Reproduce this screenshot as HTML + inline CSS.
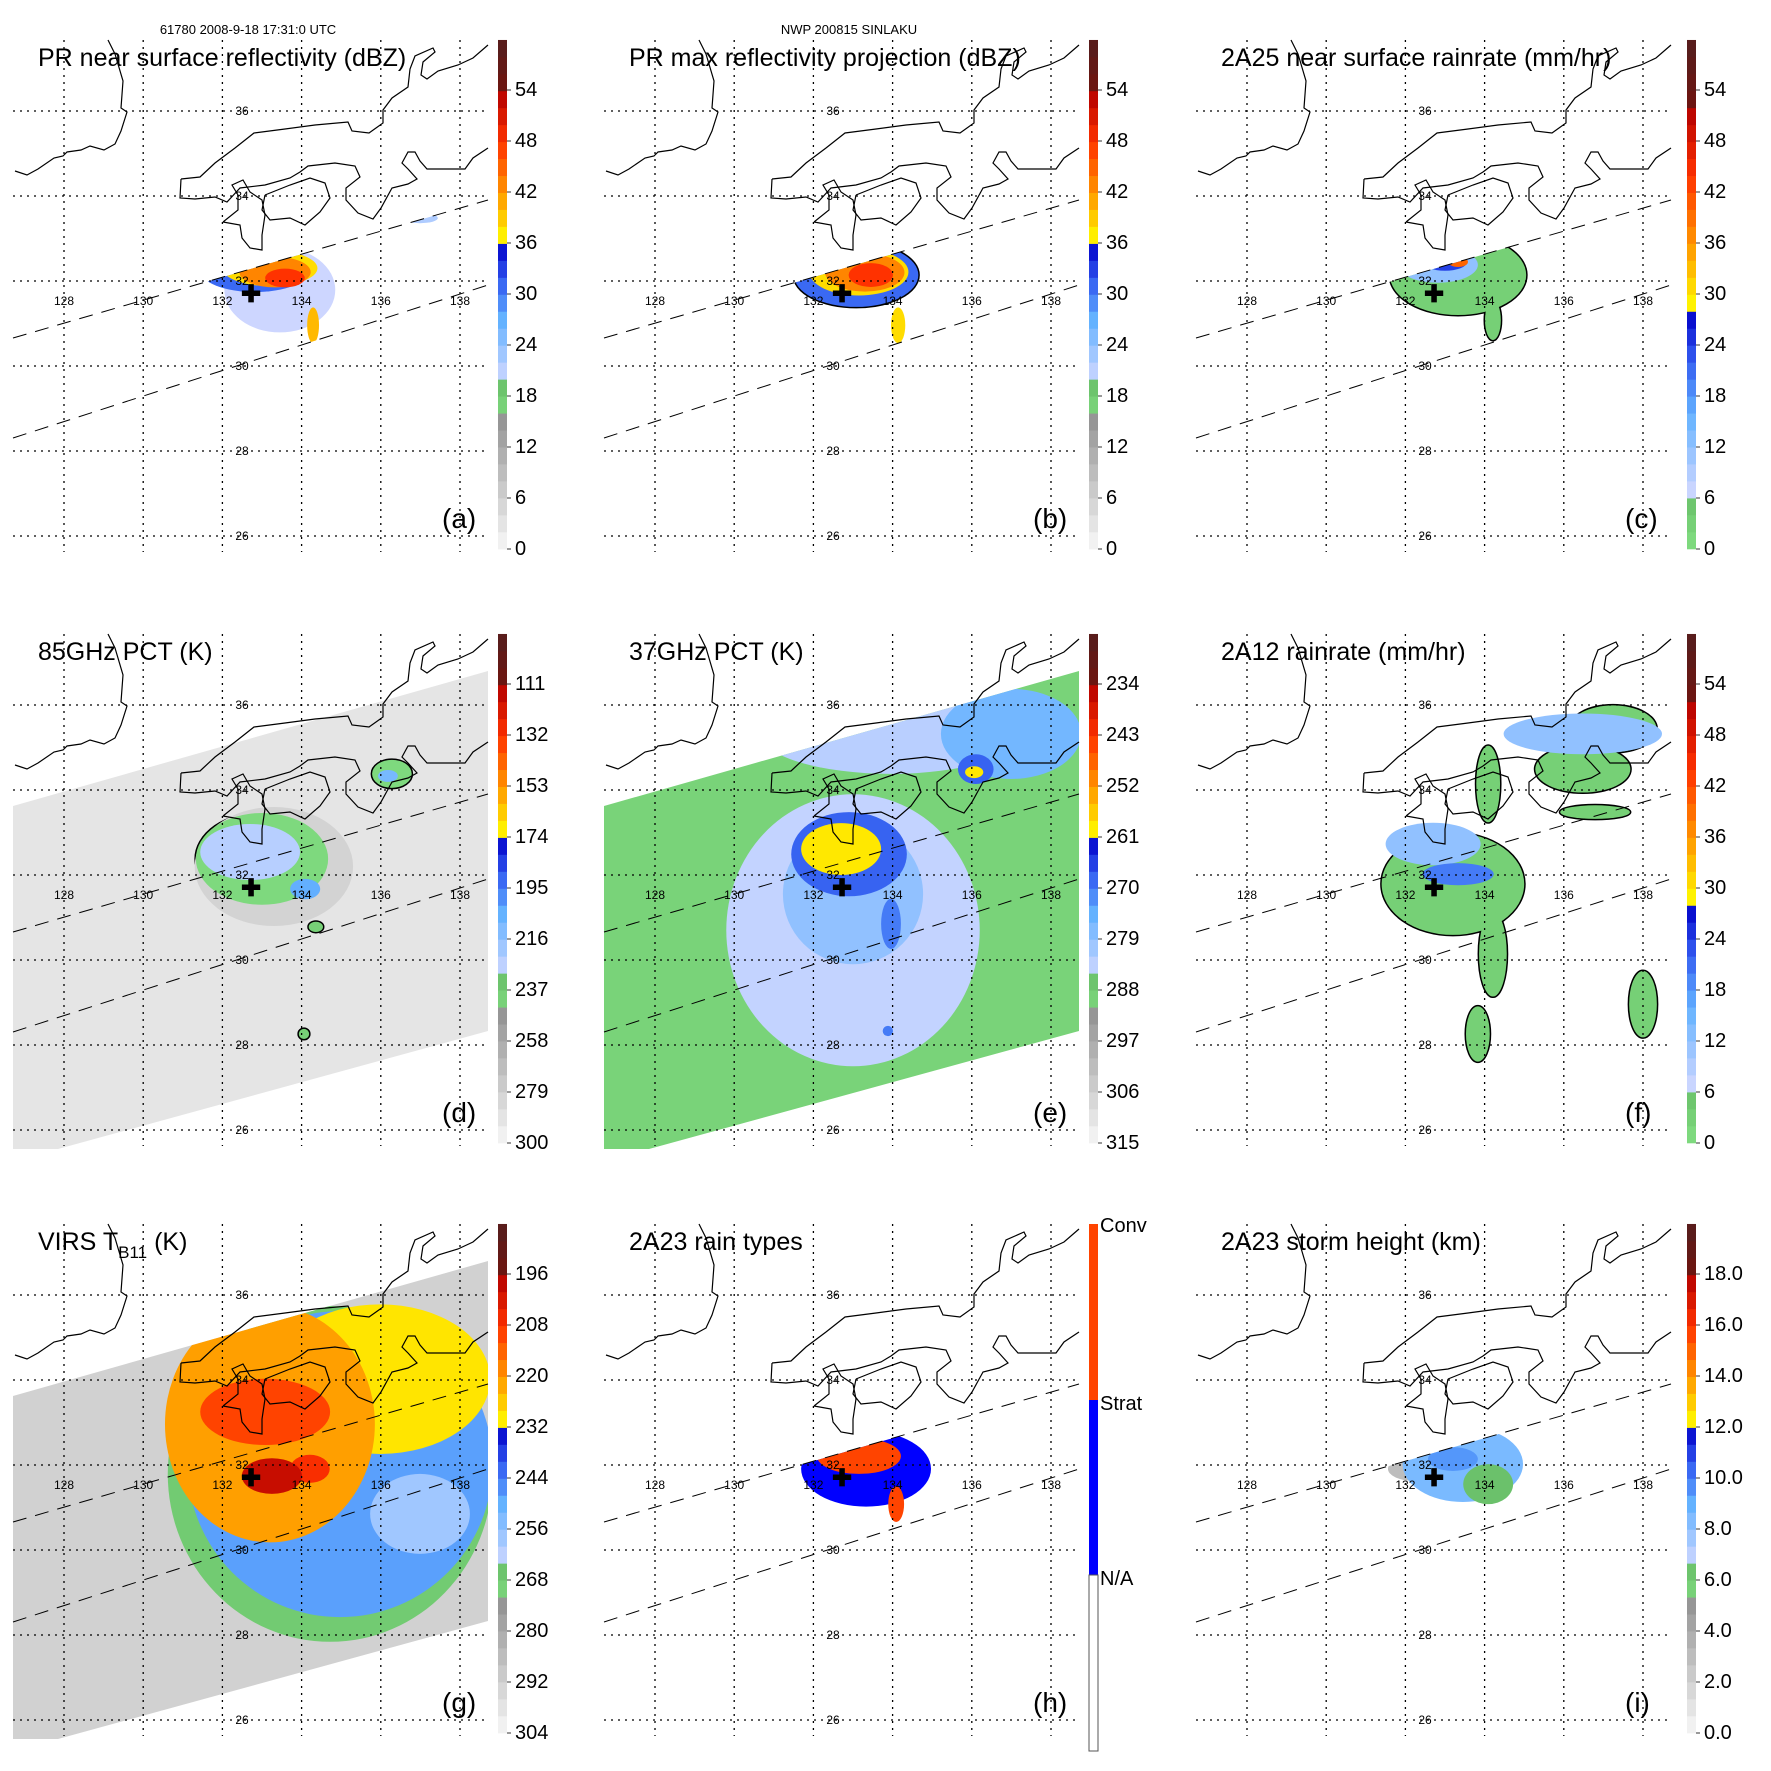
<!DOCTYPE html>
<html><head><meta charset="utf-8"><style>
html,body{margin:0;padding:0;background:#fff}
svg{display:block}
text{font-family:"Liberation Sans",sans-serif;fill:#000}
</style></head><body>
<svg id="fig" width="1771" height="1771" viewBox="0 0 1771 1771" xmlns="http://www.w3.org/2000/svg">
<text x="248" y="34" font-size="13" text-anchor="middle">61780 2008-9-18 17:31:0 UTC</text>
<text x="849" y="34" font-size="13" text-anchor="middle">NWP 200815 SINLAKU</text>
</svg>
<script>
// ---- map axis data ----
const lonTicks=[128,130,132,134,136,138];
const latTicks=[36,34,32,30,28,26];
// ---- panel a: PR near surface reflectivity ----
const aLon=[133.45,132.82,133.2,133.33,133.58,134.29,136.99];
const aLat=[31.79,32.26,32.3,32.21,32.07,30.96,33.48];
const aRx=[1.4,1.39,1.2,0.9,0.5,0.15,0.45];
const aRy=[1.0,0.52,0.42,0.36,0.22,0.42,0.12];
const aVal=[20,31,38,43,48,40,22];
const aTicks=["0","6","12","18","24","30","36","42","48","54"];
// ---- panel b: PR max reflectivity ----
const bLon=[133.08,133.15,133.3,133.45,134.14,136.74];
const bLat=[32.14,32.21,32.2,32.14,30.96,34.09];
const bRx=[1.57,1.25,1.0,0.56,0.18,0.56];
const bRy=[0.75,0.55,0.45,0.28,0.42,0.14];
const bVal=[31,38,43,48,38,31];
// ---- panel c: 2A25 rainrate ----
const cLon=[133.33,134.21,136.99,132.82,133.0,133.33];
const cLat=[32.14,31.08,33.79,32.38,32.45,32.45];
const cRx=[1.72,0.2,0.5,1.01,0.56,0.25];
const cRy=[0.94,0.47,0.12,0.42,0.21,0.12];
const cVal=[3,3,3,12,24,40];
// ---- panel d: 85GHz PCT ----
const dLon=[133.3,133.0,136.28,134.36,134.06,132.7,134.09,136.18];
const dLat=[32.2,32.38,34.38,30.78,28.26,32.54,31.67,34.33];
const dRx=[2.0,1.67,0.5,0.18,0.13,1.26,0.38,0.25];
const dRy=[1.4,1.08,0.33,0.12,0.12,0.66,0.24,0.14];
const dVal=[280,245,245,240,240,225,205,210];
const dTicks=["300","279","258","237","216","195","174","153","132","111"];
// ---- panel e: 37GHz PCT ----
const eLon=[133.0,133.96,133.0,136.99,132.9,133.96,136.1,133.88,132.7,136.06];
const eLat=[30.7,35.32,31.55,35.32,32.49,30.85,34.49,28.33,32.61,34.42];
const eRx=[3.2,3.28,1.77,1.77,1.46,0.25,0.45,0.13,1.01,0.23];
const eRy=[3.2,0.94,1.65,1.06,0.99,0.59,0.35,0.12,0.61,0.14];
const eVal=[284,283,279,276,268,270,268,270,259,259];
const eTicks=["315","306","297","288","279","270","261","252","243","234"];
// ---- panel f: 2A12 rainrate ----
const fLon=[133.2,134.21,133.83,136.48,137.24,138.0,136.79,134.09,136.48,132.7,133.33];
const fLat=[31.79,30.14,28.26,34.49,35.44,28.96,33.48,34.14,35.32,32.73,32.02];
const fRx=[1.8,0.35,0.3,1.2,1.1,0.35,0.88,0.3,2.0,1.2,0.9];
const fRy=[1.2,1.0,0.65,0.55,0.55,0.78,0.16,0.9,0.48,0.5,0.26];
const fVal=[3,3,3,3,3,3,3,3,12,12,20];
// ---- panel g: VIRS TB11 ----
const gLon=[134.72,134.97,136.99,135.98,133.2,133.08,134.21,133.25];
const gLat=[31.79,32.02,30.85,34.02,32.96,33.25,31.91,31.74];
const gRx=[4.1,3.85,1.26,2.78,2.65,1.64,0.5,0.76];
const gRy=[3.95,3.6,0.94,1.76,2.78,0.78,0.33,0.42];
const gVal=[268,248,258,229,221,210,207,199];
const gTicks=["304","292","280","268","256","244","232","220","208","196"];
// ---- panel h: 2A23 rain types (1=strat, 2=conv) ----
const hLon=[133.33,136.74,133.15,134.09];
const hLat=[31.91,34.14,32.21,31.08];
const hRx=[1.64,0.5,1.06,0.2];
const hRy=[0.89,0.14,0.42,0.42];
const hVal=[1,1,2,2];
// ---- panel i: storm height ----
const iLon=[132.19,133.45,134.09,133.2,136.99];
const iLat=[31.91,32.02,31.55,32.14,33.91];
const iRx=[0.63,1.52,0.63,0.63,0.5];
const iRy=[0.28,0.89,0.47,0.28,0.14];
const iVal=[3,8.5,6.5,9.5,5];
const iTicks=["0.0","2.0","4.0","6.0","8.0","10.0","12.0","14.0","16.0","18.0"];

const NS='http://www.w3.org/2000/svg';
const svg=document.getElementById('fig');
function X(lon){return 64+(lon-128)*39.6;}
function Y(lat){return 111+(36-lat)*42.5;}
function mk(tag,attrs,parent){const e=document.createElementNS(NS,tag);for(const k in attrs)e.setAttribute(k,attrs[k]);parent.appendChild(e);return e;}

const stops=[[0,[248,248,248]],[0.25,[150,150,150]],[0.2501,[130,222,130]],[0.333,[104,190,104]],[0.3331,[205,214,255]],[0.45,[100,178,255]],[0.53,[50,90,240]],[0.6,[0,0,200]],[0.6001,[255,255,0]],[0.7,[255,150,0]],[0.8,[255,50,0]],[0.9,[180,0,0]],[0.9001,[110,20,15]],[1,[85,30,30]]];
function col(f){f=Math.max(0,Math.min(1,f));for(let i=1;i<stops.length;i++){if(f<=stops[i][0]){const a=stops[i-1],b=stops[i];const t=(f-a[0])/Math.max(1e-6,b[0]-a[0]);const c=a[1].map((v,j)=>Math.round(v+(b[1][j]-v)*t));return 'rgb('+c.join(',')+')';}}return 'rgb(85,30,30)';}

const coasts=[
 [[108,40],[115,54],[123,81],[121,108],[127,112],[121,131],[115,144],[104,150],[90,146],[81,150],[67,152],[63,156],[54,158],[38,169],[27,175],[15,171]],
 [[181,179],[200,177],[215,163],[235,148],[254,133],[285,129],[315,125],[348,122],[352,131],[369,133],[383,123],[383,110],[392,98],[408,87],[410,69],[415,56],[433,48],[435,52],[423,62],[421,75],[427,79],[438,71],[458,65],[473,58],[488,45]],
 [[181,179],[180,198],[195,199],[215,197],[227,202],[240,188],[265,185],[290,178],[300,172],[308,166],[335,163],[355,166],[360,177],[346,188],[346,200],[358,213],[373,219],[381,208],[392,188],[408,184],[417,179],[408,169],[402,163],[408,152],[415,152],[420,161],[427,169],[465,169],[473,158],[488,148]],
 [[265,195],[290,185],[310,178],[325,183],[330,198],[320,212],[305,225],[290,218],[270,220],[262,210],[265,195]],
 [[223,222],[238,210],[238,195],[232,185],[243,180],[250,192],[262,200],[265,215],[262,235],[262,250],[250,248],[242,238],[240,225],[223,222]]
];
const tmiSwath="13,212 488,77 488,437 58,555 13,555";
const prSwath="13,338 488,200 488,285 13,438";

const panels=[
 {id:'a',ox:0,oy:0,title:'PR near surface reflectivity (dBZ)',lon:aLon,lat:aLat,rx:aRx,ry:aRy,val:aVal,ticks:aTicks,fr:v=>v/60,clip:'pr',outline:0,base:null},
 {id:'b',ox:591,oy:0,title:'PR max reflectivity projection (dBZ)',lon:bLon,lat:bLat,rx:bRx,ry:bRy,val:bVal,ticks:aTicks,fr:v=>v/60,clip:'pr',outline:1,base:null},
 {id:'c',ox:1183,oy:0,title:'2A25 near surface rainrate (mm/hr)',lon:cLon,lat:cLat,rx:cRx,ry:cRy,val:cVal,ticks:aTicks,fr:v=>0.25+0.75*v/60,clip:'pr',outline:3,base:null,shift:true},
 {id:'d',ox:0,oy:594,title:'85GHz PCT (K)',lon:dLon,lat:dLat,rx:dRx,ry:dRy,val:dVal,ticks:dTicks,fr:v=>(300-v)/210,clip:'tmi',outline:5,outlineFrom:1,base:290},
 {id:'e',ox:591,oy:594,title:'37GHz PCT (K)',lon:eLon,lat:eLat,rx:eRx,ry:eRy,val:eVal,ticks:eTicks,fr:v=>(315-v)/90,clip:'tmi',outline:0,base:290},
 {id:'f',ox:1183,oy:594,title:'2A12 rainrate (mm/hr)',lon:fLon,lat:fLat,rx:fRx,ry:fRy,val:fVal,ticks:aTicks,fr:v=>0.25+0.75*v/60,clip:'map',outline:8,base:null,shift:true},
 {id:'g',ox:0,oy:1184,title:'VIRS T',lon:gLon,lat:gLat,rx:gRx,ry:gRy,val:gVal,ticks:gTicks,fr:v=>(304-v)/120,clip:'tmi',outline:0,base:292},
 {id:'h',ox:591,oy:1184,title:'2A23 rain types',lon:hLon,lat:hLat,rx:hRx,ry:hRy,val:hVal,ticks:null,fr:null,clip:'pr',outline:0,base:null},
 {id:'i',ox:1183,oy:1184,title:'2A23 storm height (km)',lon:iLon,lat:iLat,rx:iRx,ry:iRy,val:iVal,ticks:iTicks,fr:v=>v/20,clip:'pr',outline:0,base:null}
];

const defs=mk('defs',{},svg);
panels.forEach(p=>{
 const cp=mk('clipPath',{id:'clip-'+p.id},defs);
 if(p.clip==='pr') mk('polygon',{points:prSwath},cp);
 else if(p.clip==='tmi') mk('polygon',{points:tmiSwath},cp);
 else mk('rect',{x:13,y:40,width:475,height:515},cp);
});

panels.forEach(p=>{
 const g=mk('g',{transform:`translate(${p.ox},${p.oy})`},svg);
 
 
 if(p.base!==null){
  const b=mk('polygon',{points:tmiSwath,fill:col(p.fr(p.base))},g);
  
  
 }
 const dg=mk('g',{'clip-path':`url(#clip-${p.id})`},g);
 
 
 const n=p.val.length;
 const from=p.outlineFrom||0;
 for(let k=from;k<from+p.outline && k<n;k++){
  const e=mk('ellipse',{cx:X(p.lon[k]),cy:Y(p.lat[k]),rx:p.rx[k]*39.6,ry:p.ry[k]*42.5,fill:'none',stroke:'#000','stroke-width':3},dg);
  
  
 }
 for(let k=0;k<n;k++){
  let fill;
  if(p.id==='h') fill=p.val[k]===2?'#ff4400':'#0000ff';
  else fill=col(p.fr(p.val[k]));
  const e=mk('ellipse',{cx:X(p.lon[k]),cy:Y(p.lat[k]),rx:p.rx[k]*39.6,ry:p.ry[k]*42.5,fill:fill},dg);
  
  
 }
 coasts.forEach(c=>{
  const l=mk('polyline',{points:c.map(q=>q.join(',')).join(' '),fill:'none',stroke:'#000','stroke-width':1.2},g);
  
  
 });
 lonTicks.forEach(lo=>{
  const l=mk('line',{x1:X(lo),x2:X(lo),y1:40,y2:552,stroke:'#000','stroke-width':1.3,'stroke-dasharray':'2 5'},g);
  
  
  const t=mk('text',{x:X(lo),y:305,'font-size':12,'text-anchor':'middle'},g);
  t.textContent=lo;
  
  
 });
 latTicks.forEach(la=>{
  const l=mk('line',{x1:13,x2:488,y1:Y(la),y2:Y(la),stroke:'#000','stroke-width':1.3,'stroke-dasharray':'2 5'},g);
  
  
  const t=mk('text',{x:242,y:Y(la)+4,'font-size':12,'text-anchor':'middle'},g);
  t.textContent=la;
  
  
 });
 [[13,338,488,200],[13,438,488,285]].forEach(s=>{
  const l=mk('line',{x1:s[0],y1:s[1],x2:s[2],y2:s[3],stroke:'#000','stroke-width':1,'stroke-dasharray':'14 9'},g);
  
  
 });
 const cr=mk('text',{x:251,y:302,'font-size':24,'font-weight':'bold','text-anchor':'middle'},g);
 cr.textContent='✚';
 
 
 const tt=mk('text',{x:38,y:66,'font-size':25},g);
 
 
 if(p.id==='g'){
  tt.textContent='VIRS T';
  const s=mk('tspan',{'font-size':17,dy:8},tt); s.textContent='B11';
  const s2=mk('tspan',{dy:-8},tt); s2.textContent=' (K)';
 } else tt.textContent=p.title;
 const lt=mk('text',{x:442,y:528,'font-size':28},g);
 lt.textContent='('+p.id+')';
 
 
 const cb=mk('g',{},g);
 
 
 const cx=p.id==='c'||p.id==='f'||p.id==='i'?504:498;
 if(p.id==='h'){
  mk('rect',{x:cx,y:40,width:9,height:176,fill:'#ff4400'},cb);
  mk('rect',{x:cx,y:216,width:9,height:175,fill:'#0000ff'},cb);
  mk('rect',{x:cx,y:391,width:9,height:176,fill:'#fff',stroke:'#555','stroke-width':1},cb);
  [['Conv',44],['Strat',222],['N/A',397]].forEach(a=>{
   const t=mk('text',{x:cx+11,y:a[1]+4,'font-size':20},cb);t.textContent=a[0];
   
   
  });
 } else {
  for(let k=0;k<30;k++){
   const f0=k/30;
   const yb=549-f0*509;
   const ff=p.shift?0.25+0.75*(f0+1/60):f0+1/60;
   mk('rect',{x:cx,y:yb-17,width:9,height:17.3,fill:col(ff)},cb);
  }
  p.ticks.forEach((lab,k)=>{
   const y=549-k*51;
   mk('line',{x1:cx+9,x2:cx+13,y1:y,y2:y,stroke:'#000','stroke-width':0.8},cb);
   const t=mk('text',{x:cx+17,y:y+6,'font-size':20},cb);t.textContent=lab;
   
   
  });
 }
});
</script>
</body></html>
